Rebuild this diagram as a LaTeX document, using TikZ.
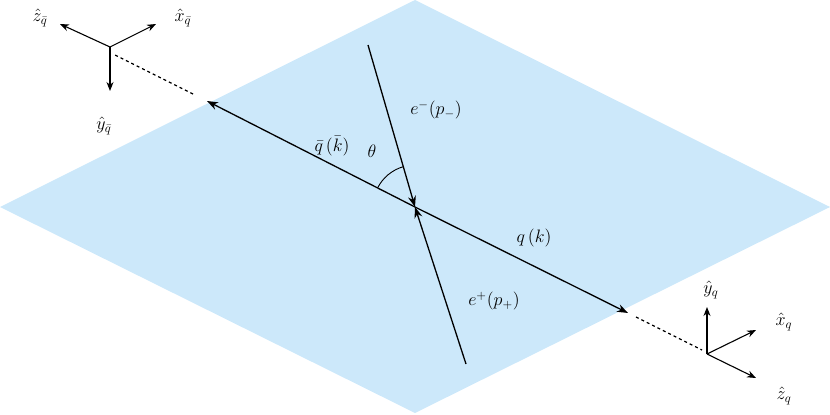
\documentclass[tikz,border=0pt]{standalone}
\usetikzlibrary{arrows.meta}
\begin{document}
\begin{tikzpicture}[x=1pt,y=-1pt,
  ax/.style={-{Stealth[length=9pt,width=7pt]},line width=1.1pt},
  ln/.style={-{Stealth[length=11pt,width=8pt]},line width=1.3pt},
  dsh/.style={dashed,line width=1.2pt},
  lab/.style={font=\Large,scale=1.25}]
\useasboundingbox (0,0) rectangle (830,415);
\fill[fill={rgb,255:red,204;green,232;blue,250}] (0,207) -- (415,0) -- (830,207) -- (415,413) -- cycle;
\coordinate (o) at (415,207);
\coordinate (qb) at (207,101);
\coordinate (q) at (628,313);
\coordinate (em) at (368,45);
\coordinate (ep) at (466,364);
\coordinate (d1) at (115,55);
\coordinate (d2) at (702,350);
\draw[ln] (o) -- (qb);
\draw[ln] (o) -- (q);
\draw[ln] (em) -- (o);
\draw[ln] (ep) -- (o);
\draw[dsh] (qb) ++(-14,-7) -- (d1);
\draw[dsh] (q) ++(8,4) -- (d2);
\draw[line width=0.9pt] (o) ++(-153:42) arc (-153:-106:42);
% axes upper left
\coordinate (a1) at (110,47);
\draw[ax] (a1) -- (60,24);
\draw[ax] (a1) -- (156,24);
\draw[ax] (a1) -- (110,91);
\node[lab] at (40,18) {$\hat z_{\bar q}$};
\node[lab] at (183,18) {$\hat x_{\bar q}$};
\node[lab] at (104,126) {$\hat y_{\bar q}$};
% axes lower right
\coordinate (a2) at (707,354);
\draw[ax] (a2) -- (707,307);
\draw[ax] (a2) -- (756,330);
\draw[ax] (a2) -- (756,378);
\node[lab] at (711,290) {$\hat y_{q}$};
\node[lab] at (784,322) {$\hat x_{q}$};
\node[lab] at (784,396) {$\hat z_{q}$};
% labels
\node[lab] at (436,110) {$e^-(p_-)$};
\node[lab] at (332,146) {$\bar q\,(\bar k)$};
\node[lab] at (372,151) {$\theta$};
\node[lab] at (534,238) {$q\,(k)$};
\node[lab] at (494,301) {$e^+(p_+)$};
\end{tikzpicture}
\end{document}
